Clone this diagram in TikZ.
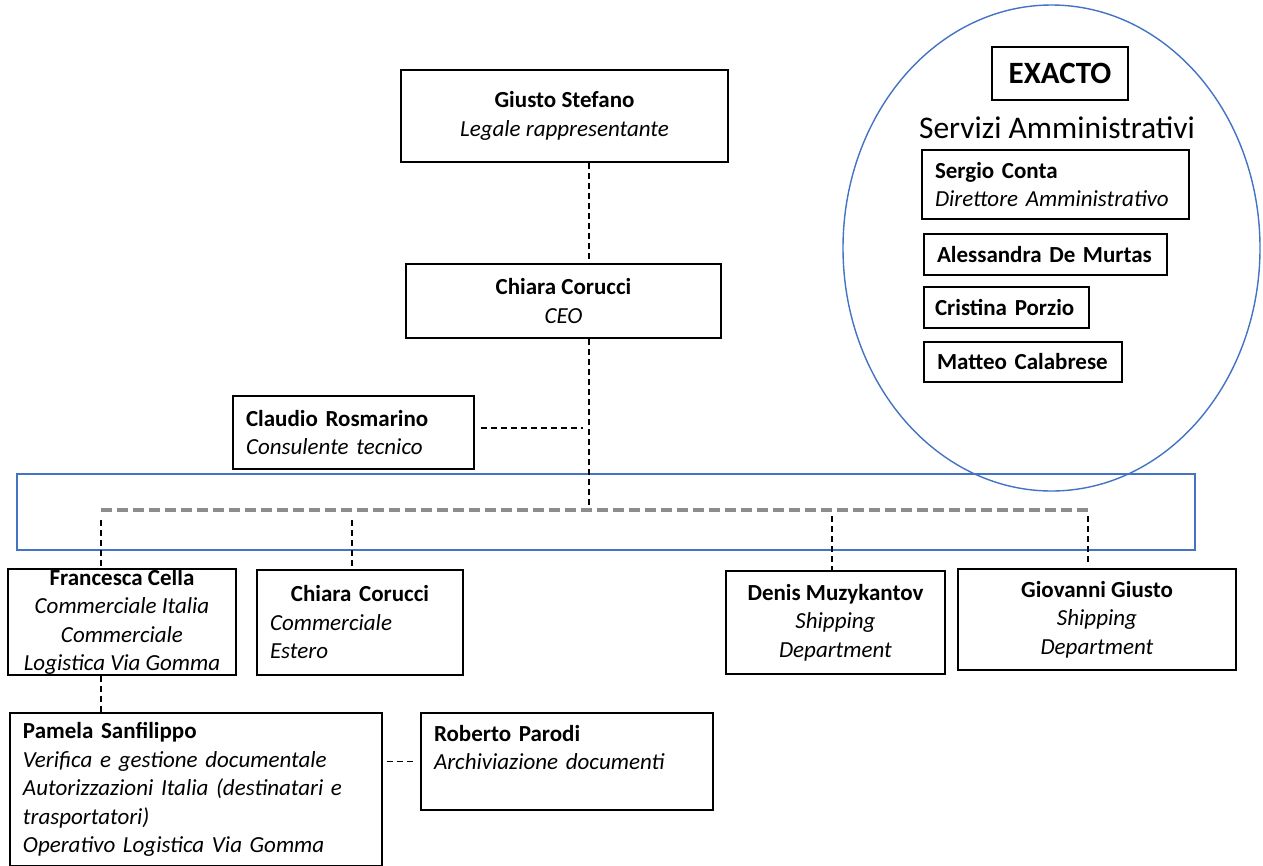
\documentclass[tikz,border=0pt]{standalone}
\usepackage{fontspec}
\setmainfont{Carlito}
\definecolor{exblu}{RGB}{68,114,196}

\begin{document}
\begin{tikzpicture}[x=1pt,y=-1pt]
 \tikzstyle{persona}=[draw,line width=1.4pt,inner xsep=13pt,inner ysep=0pt,font=\fontsize{23}{28.5}\selectfont]
 \tikzstyle{centro}=[persona,align=center]
 \tikzstyle{sinistra}=[persona,align=left]
 \tikzstyle{tratto}=[line width=1.4pt,dash pattern=on 6pt off 4pt]
 \tikzstyle{bus}=[line width=3.5pt,black!45,dash pattern=on 11pt off 5pt]
 \tikzstyle{gruppo}=[line width=1.4pt,draw=exblu]
 \useasboundingbox (0,0) rectangle (1263,865);
 % gruppi
 \draw[gruppo] (17,474) rectangle (1195,550);
 \draw[gruppo] (1051.5,248) ellipse [x radius=208.5pt, y radius=243pt];
 % vertici
 \node[centro,minimum width=327pt,minimum height=92pt] (giusto) at (564.5,116) {\textbf{Giusto Stefano}\\\textit{Legale rappresentante}};
 \node[centro,minimum width=315pt,minimum height=74pt] (ceo) at (563.5,301) {\textbf{Chiara Corucci}\\\textit{CEO}};
 \node[sinistra,text width=215pt,minimum height=73pt] (claudio) at (353.5,432.5) {\textbf{Claudio Rosmarino}\\\textit{Consulente tecnico}};
 % area operativa
 \node[centro,minimum width=228pt,minimum height=106pt] (francesca) at (122,622) {\textbf{Francesca Cella}\\\textit{Commerciale Italia}\\\textit{Commerciale}\\\textit{Logistica Via Gomma}};
 \node[persona,text width=180pt,minimum height=105pt] (chiara) at (360,622.5) {\centering\textbf{Chiara Corucci}\par\raggedright\textit{Commerciale}\par\textit{Estero}};
 \node[centro,minimum width=219pt,minimum height=103pt] (denis) at (835.5,622.5) {\textbf{Denis Muzykantov}\\\textit{Shipping}\\\textit{Department}};
 \node[centro,minimum width=278pt,minimum height=101pt] (giovanni) at (1097,619.5) {\textbf{Giovanni Giusto}\\\textit{Shipping}\\\textit{Department}};
 \node[sinistra,text width=346pt,minimum height=153pt] (pamela) at (196,789.5) {\textbf{Pamela Sanfilippo}\\\textit{Verifica e gestione documentale}\\\textit{Autorizzazioni Italia (destinatari e}\\\textit{trasportatori)}\\\textit{Operativo Logistica Via Gomma}};
 \node[sinistra,text width=266pt,minimum height=97pt] (roberto) at (567,761.5) {\textbf{Roberto Parodi}\\\textit{Archiviazione documenti}\\~};
 % servizi amministrativi
 \node[draw,line width=2.2pt,minimum width=136pt,minimum height=53pt,font=\fontsize{31}{36}\selectfont\bfseries] (exacto) at (1060,73.5) {EXACTO};
 \node[font=\fontsize{31.5}{36}\selectfont] (servizi) at (1057,128) {Servizi Amministrativi};
 \node[sinistra,text width=241pt,minimum height=69pt] (sergio) at (1055.5,184.5) {\textbf{Sergio Conta}\\\textit{Direttore Amministrativo}};
 \node[sinistra,text width=217pt,minimum height=41pt] (alessandra) at (1045.5,254.5) {\textbf{Alessandra De Murtas}};
 \node[sinistra,inner xsep=11pt,text width=143pt,minimum height=41pt] (cristina) at (1006.5,307.5) {\textbf{Cristina Porzio}};
 \node[sinistra,text width=172pt,minimum height=40pt] (matteo) at (1023,362) {\textbf{Matteo Calabrese}};
 % collegamenti
 \coordinate (tronco) at (589,510);
 \coordinate (bL) at (101,510);
 \coordinate (bR) at (1088,510);
 \coordinate (dF) at (101,520);
 \coordinate (dC) at (352,520);
 \coordinate (dD) at (832,516);
 \coordinate (dG) at (1088,516);
 \draw[tratto] (giusto.south -| tronco) -- (ceo.north -| tronco);
 \draw[tratto] (ceo.south -| tronco) -- (tronco);
 \draw[tratto,shorten <=6pt,shorten >=6pt] (claudio.east |- 0,428) -- (tronco |- 0,428);
 \draw[bus] (bL) -- (bR);
 \draw[tratto] (dF) -- (dF |- francesca.north);
 \draw[tratto] (dC) -- (dC |- chiara.north);
 \draw[tratto] (dD) -- (dD |- denis.north);
 \draw[tratto] (dG) -- (1088,562);
 \draw[tratto] (dF |- francesca.south) -- (dF |- pamela.north);
 \draw[tratto,shorten <=4pt,shorten >=7pt] (pamela.east |- roberto.west) -- (roberto.west);
\end{tikzpicture}
\end{document}
